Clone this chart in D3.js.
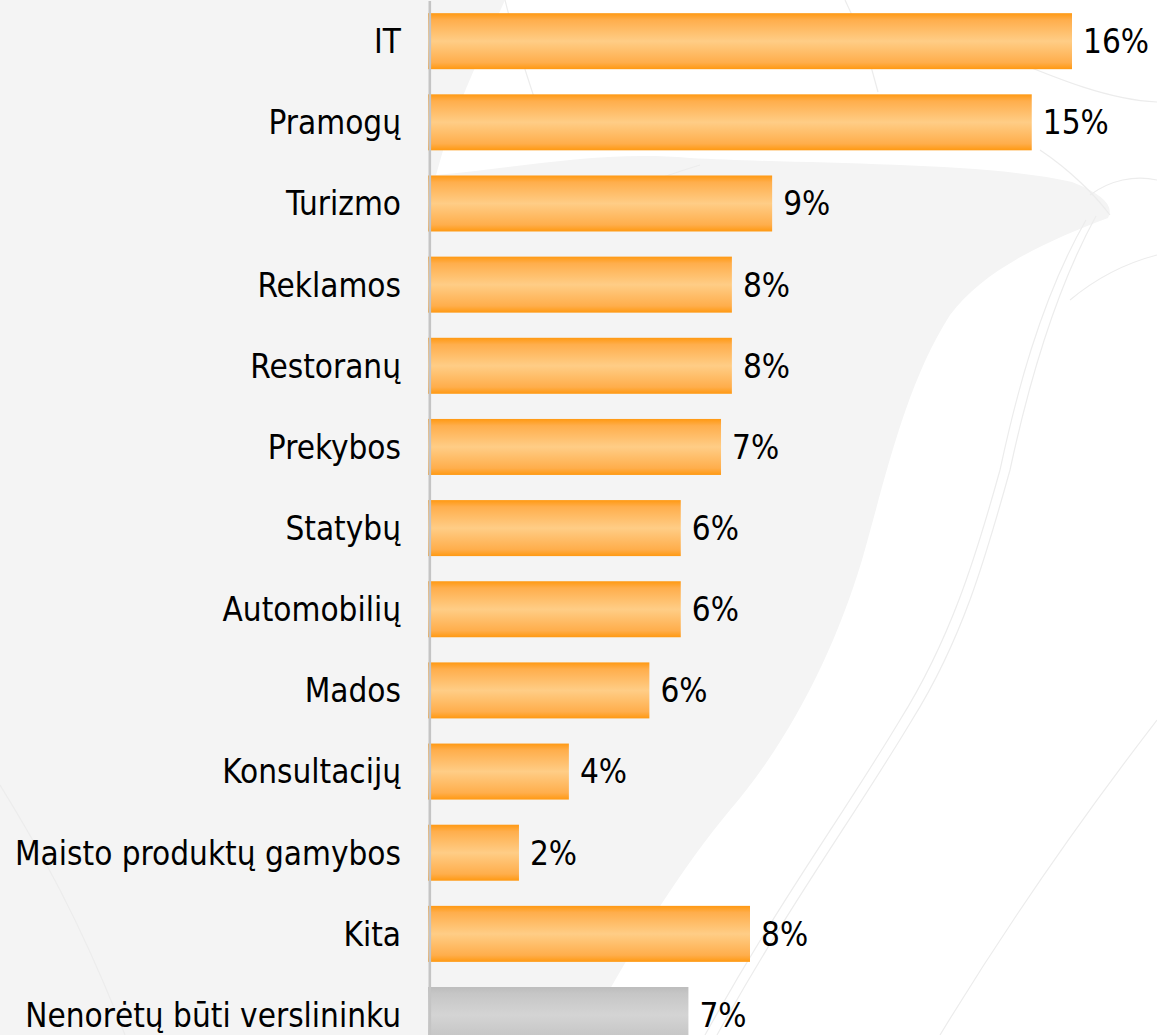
<!DOCTYPE html>
<html>
<head>
<meta charset="utf-8">
<script src="https://cdn.jsdelivr.net/npm/d3@7"></script>
<style>
html,body{margin:0;padding:0;background:#fff;}
svg{display:block;}
text{font-family:"DejaVu Sans Condensed","DejaVu Sans",sans-serif;font-stretch:condensed;}
</style>
</head>
<body>
<svg id="chart" width="1157" height="1035"></svg>
<script>
const categories = ["IT","Pramogų","Turizmo","Reklamos","Restoranų","Prekybos","Statybų","Automobilių","Mados","Konsultacijų","Maisto produktų gamybos","Kita","Nenorėtų būti verslininku"];
const values = [16.0, 15.0, 8.55, 7.55, 7.55, 7.28, 6.28, 6.28, 5.5, 3.5, 2.26, 8.0, 6.47];
const valueLabels = ["16%","15%","9%","8%","8%","7%","6%","6%","6%","4%","2%","8%","7%"];
const highlight = [false,false,false,false,false,false,false,false,false,false,false,false,true];

const W = 1157, H = 1035;
const svg = d3.select("#chart");
const defs = svg.append("defs");

function grad(id, edge, mid, mid2) {
  const g = defs.append("linearGradient").attr("id", id)
    .attr("x1", 0).attr("y1", 0).attr("x2", 0).attr("y2", 1);
  [[0, edge],[0.12, mid2],[0.5, mid],[0.88, mid2],[1, edge]].forEach(([o,c]) =>
    g.append("stop").attr("offset", o).attr("stop-color", c));
}
grad("gOrange", "#ff9912", "#ffcd86", "#ffae4c");
grad("gGray", "#bcbcbc", "#d4d4d4", "#c6c6c6");

// background decoration
const bg = svg.append("g");
bg.append("rect").attr("width", W).attr("height", H).attr("fill", "#ffffff");
bg.append("path").attr("fill", "#f4f4f4")
  .attr("d", "M0,0 H505 C485,45 462,95 446,140 L436,175 C520,168 600,150 690,158 C800,164 990,162 1072,182 Q1118,200 1108,218 C1050,240 985,268 950,315 C905,385 885,480 862,560 C835,650 790,740 730,810 C680,870 630,950 585,1035 H0 Z");
const lines = [
  "M0,785 C40,850 80,920 125,1035",
  "M1086,220 C1040,300 1015,400 1000,470 C975,560 950,640 900,720 C840,820 780,900 705,1035",
  "M1096,216 C1050,300 1025,400 1010,470 C985,560 962,640 912,720 C852,820 792,900 717,1035",
  "M1157,720 C1080,820 1010,920 940,1035",
  "M1040,150 C1070,170 1095,195 1110,215",
  "M1090,195 C1110,180 1135,175 1157,180",
  "M1070,300 C1100,275 1130,262 1157,255",
  "M1000,55 C1060,80 1110,100 1157,102",
  "M845,0 C860,30 870,60 878,92",
  "M505,0 C515,40 525,70 535,100",
  "M540,230 C600,200 650,180 700,165"
];
bg.selectAll("path.deco").data(lines).join("path").attr("class","deco")
  .attr("d", d => d).attr("fill", "none").attr("stroke", "#ececec").attr("stroke-width", 1.2);

// scales
const x = d3.scaleLinear().domain([0, 16]).range([428, 1072]);
const y = d3.scaleBand().domain(categories).range([0.6, 1055.6])
  .paddingInner(0.31).paddingOuter(0.155);

const data = categories.map((c, i) => ({c, v: values[i], l: valueLabels[i], h: highlight[i]}));

svg.append("g").selectAll("rect.bar").data(data).join("rect").attr("class","bar")
  .attr("x", x(0)).attr("y", d => y(d.c))
  .attr("width", d => x(d.v) - x(0)).attr("height", y.bandwidth())
  .attr("fill", d => d.h ? "url(#gGray)" : "url(#gOrange)");

// axis line
svg.append("line").attr("x1", 429.8).attr("x2", 429.8).attr("y1", 1).attr("y2", H)
  .attr("stroke", "#c4c4c4").attr("stroke-width", 2.6);

// category labels via axis
const yAxis = d3.axisLeft(y).tickSize(0).tickPadding(0);
const ag = svg.append("g").attr("transform", "translate(401,0)").call(yAxis);
ag.select(".domain").remove();
ag.selectAll("text").attr("font-size", 33).attr("fill", "#000")
  .attr("font-family", "'DejaVu Sans Condensed','DejaVu Sans',sans-serif")
  .attr("dy", "0.36em");

// value labels
svg.append("g").selectAll("text.val").data(data).join("text").attr("class","val")
  .attr("x", d => x(d.v) + 11).attr("y", d => y(d.c) + y.bandwidth() / 2)
  .attr("dy", "0.36em").attr("font-size", 33).attr("fill", "#000")
  .text(d => d.l);
</script>
</body>
</html>
